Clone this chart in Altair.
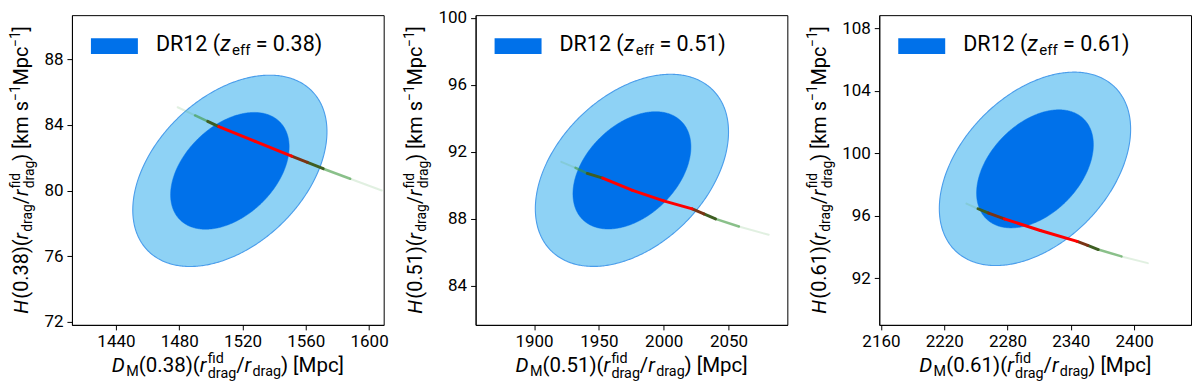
import altair as alt
import numpy as np
import pandas as pd

# ---------------- data ----------------
REDSHIFTS = ["0.38", "0.51", "0.61"]
DM_CENTER = [1512.0, 1975.5, 2306.0]
H_CENTER = [81.2, 90.9, 99.0]
DM_SIGMA = [24.7, 30.0, 36.5]
H_SIGMA = [2.35, 2.31, 2.49]
CORR = [0.41, 0.40, 0.41]
CONTOUR_LEVELS = ["outer", "inner"]
CONTOUR_DCHI2 = [6.17, 2.30]

X_DOMAIN = [[1412.2, 1609.2], [1854.9, 2095.4], [2158.4, 2453.9]]
Y_DOMAIN = [[71.8, 90.7], [81.67, 100.17], [89.02, 108.83]]
X_TICKS = [[1440, 1480, 1520, 1560, 1600], [1900, 1950, 2000, 2050],
           [2160, 2220, 2280, 2340, 2400]]
Y_TICKS = [[72, 76, 80, 84, 88], [84, 88, 92, 96, 100], [92, 96, 100, 104, 108]]

LINE_DM = [
    [1479, 1490, 1498, 1505, 1528, 1551, 1561, 1571, 1588, 1608],
    [1921, 1932, 1941, 1953, 1976, 2000, 2022, 2031, 2040, 2058, 2081],
    [2241, 2252, 2262, 2277, 2311, 2346, 2356, 2366, 2388, 2413],
]
LINE_H = [
    [85.08, 84.58, 84.22, 83.90, 83.00, 82.10, 81.72, 81.33, 80.72, 80.00],
    [91.41, 91.05, 90.72, 90.44, 89.70, 89.08, 88.60, 88.30, 88.00, 87.55, 87.05],
    [96.78, 96.45, 96.17, 95.80, 95.06, 94.36, 94.10, 93.84, 93.40, 92.97],
]
LINE_PART = [
    ["tail", "wing", "edge_g", "core", "core", "edge_r", "edge_g", "wing", "tail"],
    ["tail", "wing", "edge_g", "core", "core", "core", "edge_r", "edge_g", "wing", "tail"],
    ["tail", "edge_g", "edge_r", "core", "core", "edge_r", "edge_g", "wing", "tail"],
]

# ---------------- styling ----------------
OUTER_FILL = "#8ED2F5"
OUTER_EDGE = "#4A9DEB"
INNER_FILL = "#0071EA"
PART_DOMAIN = ["tail", "wing", "edge_g", "edge_r", "core"]
PART_COLOR = ["#5AAE5A", "#3C963C", "#3E5E22", "#7A3414", "#FF0000"]
PART_OPACITY = [0.18, 0.6, 1.0, 1.0, 1.0]
PART_WIDTH = [2.0, 2.5, 2.9, 2.9, 3.0]

FONT = "Roboto"
W, H = 312, 310
TICK_SIZE, LABEL_PAD, LABEL_FS = 5, 4, 17
TITLE_FS = 20.5
LEGEND_FS = 21.5

EM = {" ": 0.248, "(": 0.342, ")": 0.348, ".": 0.263, "/": 0.412, "=": 0.549,
      "[": 0.265, "]": 0.265, "\u2212": 0.55, "D": 0.656, "H": 0.713, "M": 0.874,
      "R": 0.631, "a": 0.544, "c": 0.523, "d": 0.548, "e": 0.528, "f": 0.347,
      "g": 0.548, "i": 0.243, "k": 0.507, "m": 0.877, "p": 0.548, "r": 0.338,
      "s": 0.516, "z": 0.496}


def tw(s):
    return sum(EM.get(c, 0.561) for c in s)


def layout(pieces, size, ratio=0.7):
    rows, adv = [], 0.0
    fs2 = size * ratio

    def put(t, perp, fs, it, adv):
        lead = len(t) - len(t.lstrip(" "))
        trail = len(t) - len(t.rstrip(" "))
        adv += lead * EM[" "] * fs
        core = t.strip(" ")
        rows.append((core, adv, perp, fs, it))
        adv += tw(core) * fs + trail * EM[" "] * fs
        return adv

    for p in pieces:
        kind = p[0]
        if kind in ("n", "i"):
            adv = put(p[1], 0.0, size, 1 if kind == "i" else 0, adv)
            if kind == "i":
                adv += 0.05 * size
        elif kind == "sub":
            adv = put(p[1], 0.22 * size, fs2, 0, adv)
        elif kind == "sup":
            adv = put(p[1], -0.42 * size, fs2, 0, adv)
        elif kind == "subsup":
            rows.append((p[1], adv, -0.42 * size, fs2, 0))
            rows.append((p[2], adv, 0.30 * size, fs2, 0))
            adv += max(tw(p[1]), tw(p[2])) * fs2
    return rows, adv


def panel(i):
    z = REDSHIFTS[i]
    xs = alt.Scale(domain=X_DOMAIN[i], nice=False, zero=False)
    ys = alt.Scale(domain=Y_DOMAIN[i], nice=False, zero=False)
    xax = alt.Axis(values=X_TICKS[i], format="d", title=None)
    yax = alt.Axis(values=Y_TICKS[i], format="d", title=None)

    cx, cy, sx, sy, rho = DM_CENTER[i], H_CENTER[i], DM_SIGMA[i], H_SIGMA[i], CORR[i]
    layers = []
    for lvl, d2 in zip(CONTOUR_LEVELS, CONTOUR_DCHI2):
        k = np.sqrt(d2)
        th = np.linspace(np.pi, 0, 241)
        dx = k * sx * np.cos(th)
        mean = cy + rho * sy / sx * dx
        half = sy * np.sqrt(1 - rho ** 2) * np.sqrt(np.clip(k ** 2 - (dx / sx) ** 2, 0, None))
        df = pd.DataFrame({"x": cx + dx, "ylo": mean - half, "yhi": mean + half})
        if lvl == "outer":
            mk = alt.Chart(df).mark_area(fill=OUTER_FILL, stroke=OUTER_EDGE, strokeWidth=1.1)
        else:
            mk = alt.Chart(df).mark_area(fill=INNER_FILL, stroke=INNER_FILL, strokeWidth=0.5)
        layers.append(mk.encode(x=alt.X("x:Q", scale=xs, axis=xax),
                                y=alt.Y("ylo:Q", scale=ys, axis=yax),
                                y2="yhi:Q"))

    xsg, ysg = LINE_DM[i], LINE_H[i]
    seg = pd.DataFrame({"xa": xsg[:-1], "xb": xsg[1:], "ya": ysg[:-1], "yb": ysg[1:],
                        "part": LINE_PART[i]})
    for part, col, op, sw in zip(PART_DOMAIN, PART_COLOR, PART_OPACITY, PART_WIDTH):
        layers.append(alt.Chart(seg).transform_filter(
            alt.datum.part == part
        ).mark_rule(strokeWidth=sw, strokeCap="round", color=col, opacity=op).encode(
            x=alt.X("xa:Q", scale=xs, axis=xax), x2="xb:Q",
            y=alt.Y("ya:Q", scale=ys, axis=yax), y2="yb:Q",
        ))

    # legend patch
    layers.append(alt.Chart(pd.DataFrame({"a": [0]})).mark_rect(fill=INNER_FILL).encode(
        x=alt.value(19), x2=alt.value(66), y=alt.value(23), y2=alt.value(39)))

    # rich text pieces
    texts = []
    rows, tot = layout([("n", "DR12 ("), ("i", "z"), ("sub", "eff"), ("n", " = " + z + ")")],
                       LEGEND_FS)
    for t, a, p, fs, it in rows:
        texts.append((t, 84 + a, 35.5 + p, fs, it, 0))
    rows, tot = layout([("i", "D"), ("sub", "M"), ("n", "(" + z + ")("), ("i", "r"),
                        ("subsup", "fid", "drag"), ("n", "/"), ("i", "r"), ("sub", "drag"),
                        ("n", ") [Mpc]")], TITLE_FS)
    for t, a, p, fs, it in rows:
        texts.append((t, W / 2 - tot / 2 + a, H + 47 + p, fs, it, 0))
    lab_w = max(len(str(v)) for v in Y_TICKS[i]) * 0.561 * LABEL_FS
    base = -(TICK_SIZE + LABEL_PAD + lab_w + 16)
    rows, tot = layout([("i", "H"), ("n", "(" + z + ")("), ("i", "r"), ("sub", "drag"),
                        ("n", "/"), ("i", "r"), ("subsup", "fid", "drag"), ("n", ") [km s"),
                        ("sup", "\u22121"), ("n", "Mpc"), ("sup", "\u22121"), ("n", "]")],
                       TITLE_FS * 0.97)
    for t, a, p, fs, it in rows:
        texts.append((t, base + p, H / 2 + tot / 2 - a, fs, it, 1))
    tdf = pd.DataFrame(texts, columns=["t", "px", "py", "fs", "it", "rot"])
    for rot in (0, 1):
        for it in (0, 1):
            layers.append(alt.Chart(tdf).transform_filter(
                f"datum.rot == {rot} && datum.it == {it}"
            ).mark_text(align="left", baseline="alphabetic", font=FONT, color="black",
                        angle=270 if rot else 0, fontStyle="italic" if it else "normal").encode(
                x=alt.value({"expr": "datum.px"}), y=alt.value({"expr": "datum.py"}),
                text="t:N", size=alt.Size("fs:Q", scale=None)))

    return alt.layer(*layers).properties(width=W, height=H)


chart = alt.hconcat(*[panel(i) for i in range(3)], spacing=92, bounds="flush").properties(
    padding=0
).configure_view(stroke="black", strokeWidth=1).configure_axis(
    labelFont=FONT, labelFontSize=LABEL_FS, labelColor="black", tickColor="black",
    domainColor="black", tickSize=TICK_SIZE, labelPadding=LABEL_PAD, grid=False,
    tickWidth=1, domainWidth=1
)

chart.save("out.html", embed_options={"renderer": "svg", "actions": False})
